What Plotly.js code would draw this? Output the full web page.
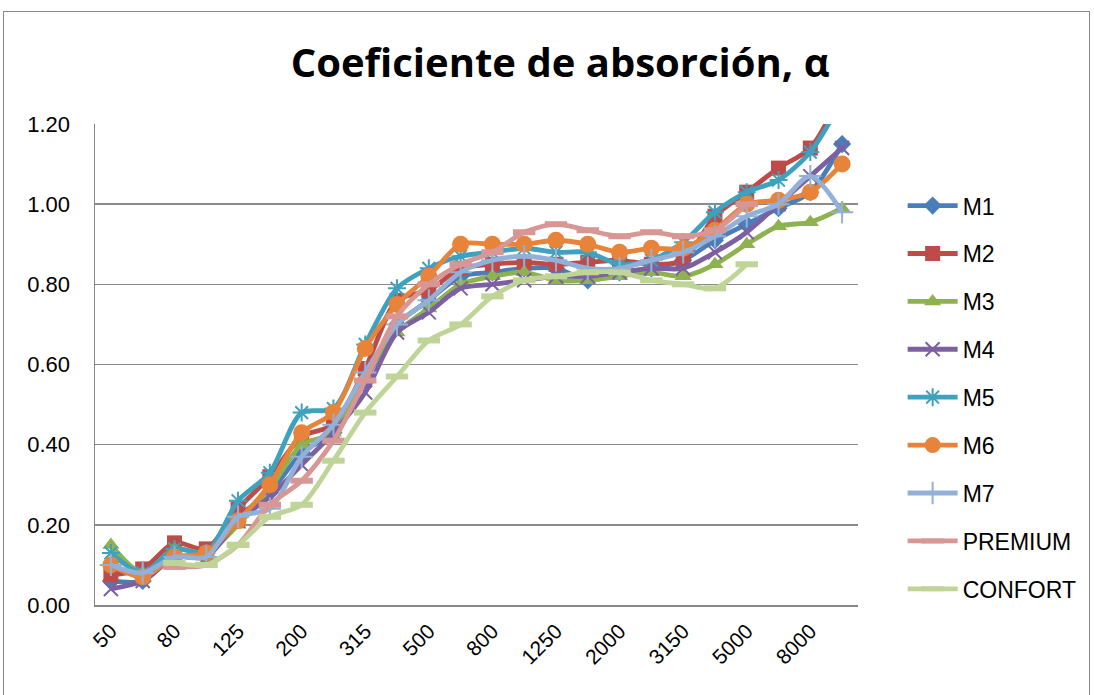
<!DOCTYPE html>
<html>
<head>
<meta charset="utf-8">
<script src="https://cdn.plot.ly/plotly-3.0.1.min.js"></script>
<style>
html,body{margin:0;padding:0;background:#fff;overflow:hidden;}
#frame{position:absolute;left:3px;top:11px;width:1087px;height:700px;border:1px solid #868686;box-sizing:border-box;}
#chart{position:absolute;left:0;top:0;width:1094px;height:695px;}
</style>
</head>
<body>
<div id="frame"></div>
<div id="chart"></div>
<script>
// Frequencies (Hz), 1/3 octave bands
const freqs = ["50","63","80","100","125","160","200","250","315","400","500","630","800","1000","1250","1600","2000","2500","3150","4000","5000","6300","8000","10000"];
const tickLabels = ["50","80","125","200","315","500","800","1250","2000","3150","5000","8000"];

const M1 = [0.06,0.06,0.12,0.12,0.22,0.28,0.38,0.43,0.56,0.70,0.76,0.82,0.83,0.84,0.84,0.81,0.83,0.84,0.86,0.91,0.95,0.99,1.03,1.15];
const M2 = [0.075,0.09,0.155,0.14,0.24,0.32,0.42,0.45,0.59,0.76,0.785,0.84,0.85,0.855,0.85,0.855,0.86,0.85,0.86,0.97,1.03,1.09,1.14,1.28];
const M3 = [0.15,0.08,0.14,0.13,0.20,0.29,0.40,0.43,0.57,0.68,0.74,0.80,0.82,0.83,0.81,0.81,0.82,0.83,0.82,0.85,0.90,0.945,0.955,0.99];
const M4 = [0.04,0.06,0.12,0.12,0.21,0.27,0.35,0.43,0.53,0.68,0.73,0.79,0.80,0.81,0.82,0.82,0.83,0.84,0.84,0.88,0.93,1.00,1.07,1.14];
const M5 = [0.13,0.08,0.14,0.13,0.26,0.33,0.48,0.49,0.65,0.79,0.84,0.87,0.88,0.89,0.88,0.88,0.85,0.86,0.905,0.98,1.03,1.06,1.13,1.26];
const M6 = [0.10,0.07,0.12,0.13,0.21,0.30,0.43,0.48,0.64,0.75,0.82,0.90,0.90,0.90,0.91,0.90,0.88,0.89,0.89,0.935,1.00,1.01,1.03,1.10];
const M7 = [0.10,0.08,0.12,0.12,0.22,0.24,0.37,0.45,0.58,0.70,0.76,0.83,0.86,0.87,0.86,0.84,0.84,0.86,0.88,0.92,0.97,1.00,1.07,0.98];
const PREMIUM = [null,null,0.095,0.10,0.15,0.25,0.31,0.41,0.56,0.72,0.80,0.85,0.88,0.93,0.95,0.935,0.92,0.93,0.92,0.935,1.00,null,null,null];
const CONFORT = [null,null,0.105,0.10,0.15,0.22,0.25,0.36,0.48,0.57,0.66,0.70,0.77,0.81,0.82,0.83,0.83,0.81,0.80,0.79,0.85,null,null,null];

const seriesNames = ["M1","M2","M3","M4","M5","M6","M7","PREMIUM","CONFORT"];
const seriesData = [M1,M2,M3,M4,M5,M6,M7,PREMIUM,CONFORT];
const colors = ["#4A7EBB","#BE4B48","#8DB24E","#7D60A0","#3EA2BE","#E8843A","#93B0D8","#D89694","#BFD598"];
const markers = [
  {symbol:"diamond", size:14},
  {symbol:"square", size:15},
  {symbol:"triangle-up", size:15},
  {symbol:"x-thin-open", size:14, lw:2},
  {symbol:"asterisk-open", size:15, lw:2},
  {symbol:"circle", size:17},
  {symbol:"cross-thin-open", size:16, lw:2},
  {symbol:"line-ew-open", size:16, lw:6},
  {symbol:"line-ew-open", size:16, lw:6}
];

const traces = seriesNames.map((n,i)=>{
  const m = markers[i];
  const mk = {symbol:m.symbol, size:m.size, color:colors[i]};
  if (m.lw) mk.line = {width:m.lw, color:colors[i]};
  else mk.line = {width:0};
  return {
    type:"scatter", mode:"lines+markers", name:n,
    x:freqs, y:seriesData[i],
    legendgroup:"g"+i,
    line:{color:colors[i], width:4.8, shape:"spline", smoothing:0.8},
    marker:mk,
    connectgaps:false
  };
});

const layout = {
  width:1094, height:695,
  paper_bgcolor:"rgba(0,0,0,0)", plot_bgcolor:"rgba(0,0,0,0)",
  margin:{l:95, r:227, t:124, b:90},
  font:{family:"Liberation Sans, Arial, sans-serif", size:22, color:"#000"},
  title:{text:"<b>Coeficiente de absorción, α</b>", x:0.512, xanchor:"center", y:0.91, yanchor:"middle",
         font:{family:"Open Sans, Liberation Sans, sans-serif", size:40, color:"#000"}},
  xaxis:{type:"category", categoryorder:"array", categoryarray:freqs, range:[-0.5,23.5],
         tickmode:"array", tickvals:tickLabels, ticktext:tickLabels, tickangle:-45,
         showgrid:false, showline:true, linecolor:"#868686", linewidth:1.5, ticks:"",
         ticklabelstandoff:4, tickfont:{size:21}, fixedrange:true},
  yaxis:{range:[0,1.2], dtick:0.2, tickformat:".2f", showgrid:true, gridcolor:"#8A8A8A", gridwidth:1.6,
         showline:true, linecolor:"#868686", linewidth:1.5, zeroline:false, ticks:"",
         ticklabelstandoff:19, tickfont:{size:22}, fixedrange:true},
  legend:{x:1.0585, xanchor:"left", y:0.875, yanchor:"top", traceorder:"grouped", tracegroupgap:15,
          font:{size:23}, bgcolor:"rgba(0,0,0,0)", itemwidth:50},
  showlegend:true
};

Plotly.newPlot("chart", traces, layout, {displayModeBar:false, staticPlot:true});
</script>
</body>
</html>
